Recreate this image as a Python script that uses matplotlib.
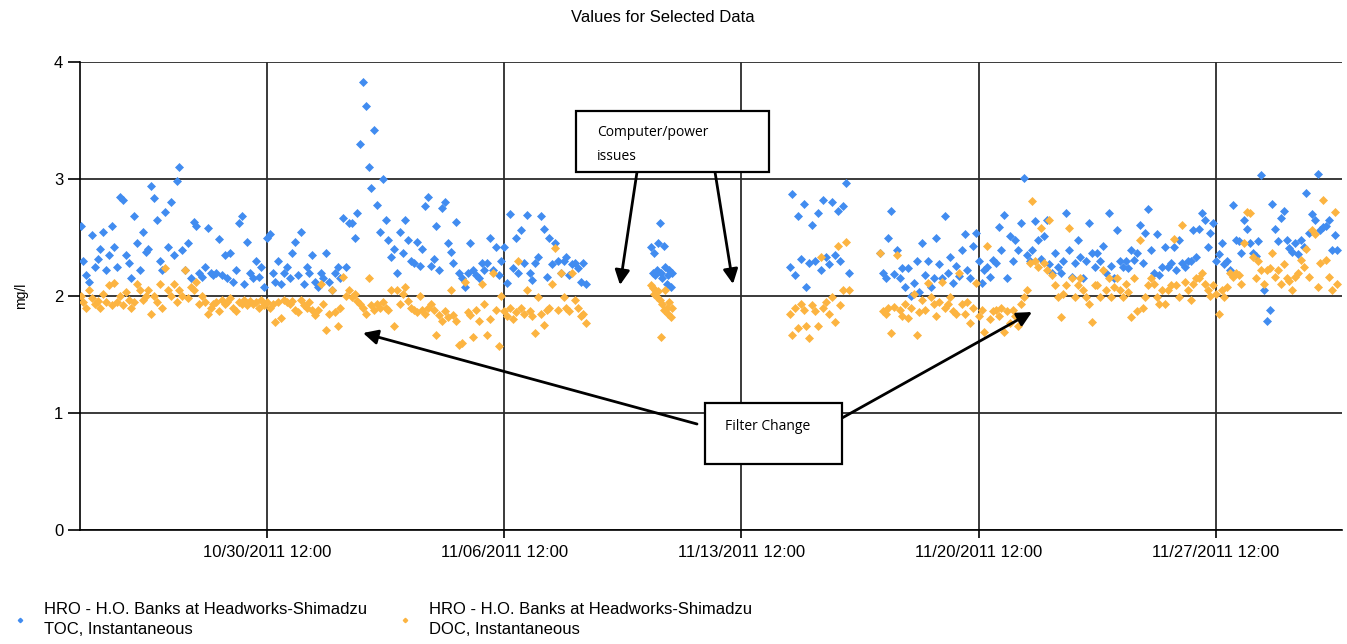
import matplotlib
matplotlib.use("Agg")
import matplotlib.pyplot as plt
import matplotlib.dates as mdates
from matplotlib.patches import Rectangle, FancyArrowPatch
from matplotlib.lines import Line2D
import pandas as pd
from datetime import datetime

plt.rcParams['font.family'] = ['Liberation Sans', 'DejaVu Sans']

TOC_COLOR = '#418CF0'
DOC_COLOR = '#FCB441'

# segment start times (2 hourly readings, hourly for the short one)
seg_starts = [datetime(2011, 10, 25, 0), datetime(2011, 11, 10, 20),
              datetime(2011, 11, 14, 22), datetime(2011, 11, 17, 14)]
seg_freq = ['2h', '1h', '2h', '2h']

# TOC, mg/l
toc_seg1 = [
    2.60, 2.30, 2.18, 2.12, 2.52, 2.25, 2.32, 2.40, 2.55, 2.22, 2.35, 2.60,  # 10/25
    2.42, 2.25, 2.85, 2.82, 2.35, 2.28, 2.15, 2.68, 2.45, 2.22, 2.55, 2.38,  # 10/26
    2.40, 2.94, 2.84, 2.65, 2.30, 2.22, 2.72, 2.42, 2.80, 2.35, 2.98, 3.10,  # 10/27
    2.39, 2.22, 2.45, 2.15, 2.63, 2.60, 2.20, 2.16, 2.25, 2.58, 2.20, 2.18,  # 10/28
    2.20, 2.49, 2.18, 2.35, 2.15, 2.37, 2.12, 2.22, 2.62, 2.68, 2.10, 2.46,  # 10/29
    2.20, 2.15, 2.30, 2.16, 2.25, 2.08, 2.50, 2.53, 2.20, 2.12, 2.30, 2.10,  # 10/30
    2.20, 2.25, 2.15, 2.37, 2.46, 2.18, 2.55, 2.10, 2.25, 2.20, 2.35, 2.12,  # 10/31
    2.08, 2.20, 2.15, 2.37, 2.12, 2.05, 2.20, 2.25, 2.15, 2.67, 2.25, 2.62,  # 11/01
    2.62, 2.50, 2.71, 3.30, 3.83, 3.62, 3.10, 2.92, 3.42, 2.78, 2.55, 3.00,  # 11/02
    2.65, 2.48, 2.33, 2.40, 2.20, 2.55, 2.37, 2.65, 2.48, 2.30, 2.28, 2.46,  # 11/03
    2.26, 2.40, 2.77, 2.85, 2.26, 2.32, 2.60, 2.22, 2.75, 2.80, 2.45, 2.38,  # 11/04
    2.28, 2.63, 2.20, 2.15, 2.08, 2.20, 2.45, 2.22, 2.18, 2.15, 2.28, 2.22,  # 11/05
    2.28, 2.50, 2.22, 2.42, 2.18, 2.30, 2.42, 2.11, 2.70, 2.24, 2.50, 2.20,  # 11/06
    2.56, 2.28, 2.69, 2.20, 2.14, 2.28, 2.33, 2.68, 2.57, 2.16, 2.50, 2.27,  # 11/07
    2.45, 2.30, 2.20, 2.30, 2.33, 2.18, 2.27, 2.28, 2.24, 2.12, 2.28, 2.10,  # 11/08
]
toc_seg2 = [2.42, 2.20, 2.37, 2.18, 2.22, 2.45, 2.62, 2.20,
            2.15, 2.43, 2.25, 2.10, 2.18, 2.22, 2.08, 2.20]
toc_seg3 = [2.25, 2.87, 2.18, 2.68, 2.32, 2.79, 2.08, 2.28, 2.61, 2.30, 2.71,
            2.22, 2.82, 2.33, 2.27, 2.80, 2.35, 2.73, 2.30, 2.77, 2.97, 2.20]
toc_seg4 = [
    2.37, 2.20, 2.15, 2.50, 2.73,                                            # 11/17
    2.19, 2.39, 2.15, 2.24, 2.08, 2.24, 2.00, 2.11, 2.30, 2.03, 2.45, 2.18,  # 11/18
    2.30, 2.08, 2.15, 2.50, 2.27, 2.15, 2.68, 2.20, 2.33, 2.11, 2.26, 2.17,  # 11/19
    2.39, 2.53, 2.22, 2.15, 2.43, 2.54, 2.30, 2.11, 2.22, 2.25, 2.16, 2.31,  # 11/20
    2.28, 2.59, 2.39, 2.69, 2.15, 2.51, 2.30, 2.48, 2.39, 2.62, 3.01, 2.35,  # 11/21
    2.30, 2.39, 2.64, 2.48, 2.32, 2.51, 2.65, 2.27, 2.20, 2.37, 2.25, 2.20,  # 11/22
    2.30, 2.71, 2.39, 2.16, 2.28, 2.48, 2.33, 2.15, 2.30, 2.62, 2.37, 2.25,  # 11/23
    2.37, 2.30, 2.43, 2.20, 2.71, 2.26, 2.15, 2.56, 2.30, 2.25, 2.30, 2.24,  # 11/24
    2.39, 2.31, 2.37, 2.61, 2.28, 2.54, 2.74, 2.39, 2.20, 2.53, 2.18, 2.25,  # 11/25
    2.42, 2.25, 2.28, 2.42, 2.22, 2.48, 2.28, 2.25, 2.30, 2.30, 2.56, 2.33,  # 11/26
    2.57, 2.71, 2.65, 2.42, 2.54, 2.62, 2.30, 2.36, 2.45, 2.27, 2.30, 2.22,  # 11/27
    2.78, 2.48, 2.47, 2.37, 2.65, 2.57, 2.45, 2.37, 2.34, 2.47, 3.03, 2.05,  # 11/28
    1.79, 1.88, 2.79, 2.57, 2.47, 2.67, 2.73, 2.48, 2.41, 2.38, 2.45, 2.36,  # 11/29
    2.48, 2.42, 2.88, 2.54, 2.70, 2.65, 3.04, 2.56, 2.59, 2.60, 2.65, 2.39,  # 11/30
    2.52, 2.39,                                                              # 12/01
]

# DOC, mg/l
doc_seg1 = [
    2.00, 1.95, 1.90, 2.05, 1.98, 1.93, 1.96, 1.90, 2.02, 1.95, 2.09, 1.92,  # 10/25
    2.11, 1.95, 2.00, 1.92, 2.03, 1.97, 1.90, 1.95, 2.10, 2.05, 1.97, 2.00,  # 10/26
    2.05, 1.85, 2.00, 1.95, 2.10, 1.90, 2.24, 2.05, 2.00, 2.10, 1.95, 2.05,  # 10/27
    2.00, 2.22, 1.98, 2.08, 2.05, 2.12, 1.93, 2.00, 1.95, 1.85, 1.90, 1.93,  # 10/28
    1.95, 1.87, 1.97, 1.93, 1.95, 1.98, 1.90, 1.87, 1.95, 1.93, 1.97, 1.92,  # 10/29
    1.96, 1.93, 1.95, 1.90, 1.97, 1.92, 1.95, 1.90, 1.93, 1.78, 1.95, 1.81,  # 10/30
    1.97, 1.95, 1.93, 1.96, 1.88, 1.86, 1.97, 1.92, 1.90, 1.95, 1.88, 1.84,  # 10/31
    1.88, 2.10, 1.93, 1.71, 1.85, 2.05, 1.86, 1.74, 1.90, 2.16, 2.00, 2.05,  # 11/01
    1.99, 2.02, 1.96, 1.93, 1.90, 1.85, 2.15, 1.92, 1.88, 1.93, 1.90, 1.95,  # 11/02
    1.90, 1.88, 2.05, 1.74, 2.05, 1.93, 2.02, 2.08, 1.96, 1.90, 1.88, 1.86,  # 11/03
    2.00, 1.88, 1.85, 1.90, 1.93, 1.88, 1.67, 1.84, 1.79, 1.87, 1.82, 2.05,  # 11/04
    1.84, 1.79, 1.58, 1.60, 2.12, 1.86, 1.84, 1.65, 1.88, 1.79, 2.10, 1.93,  # 11/05
    1.67, 1.80, 2.20, 1.88, 1.57, 2.00, 1.87, 1.83, 1.90, 1.80, 1.86, 2.30,  # 11/06
    1.90, 1.85, 2.05, 1.87, 1.83, 1.68, 1.99, 1.85, 1.75, 1.88, 1.90, 2.10,  # 11/07
    2.41, 1.88, 2.20, 1.99, 1.90, 1.87, 2.20, 1.97, 1.90, 1.83, 1.85, 1.77,  # 11/08
]
doc_seg2 = [2.09, 2.07, 2.02, 2.05, 1.99, 2.04, 1.97, 1.65,
            1.93, 1.88, 2.05, 1.90, 1.85, 1.95, 1.82, 1.90]
doc_seg3 = [1.85, 1.67, 1.90, 1.73, 1.93, 1.88, 1.74, 1.64, 1.92, 1.87, 1.74,
            2.33, 1.90, 1.95, 1.85, 1.99, 1.78, 2.43, 1.92, 2.05, 2.46, 2.05]
doc_seg4 = [
    2.37, 1.87, 1.85, 1.90, 1.68,                                            # 11/17
    1.91, 2.35, 1.88, 1.83, 1.93, 1.81, 1.90, 2.02, 1.67, 1.86, 1.97, 1.88,  # 11/18
    2.11, 1.99, 1.93, 1.83, 1.95, 2.12, 1.90, 1.93, 1.99, 1.87, 1.85, 2.20,  # 11/19
    1.93, 1.85, 1.95, 1.77, 1.90, 2.11, 1.83, 1.88, 1.69, 2.43, 1.80, 1.87,  # 11/20
    1.88, 1.83, 1.90, 1.69, 1.87, 1.77, 1.88, 1.83, 1.74, 1.93, 1.99, 2.05,  # 11/21
    2.28, 2.81, 2.30, 2.25, 2.58, 2.28, 2.22, 2.65, 2.18, 2.09, 1.99, 1.82,  # 11/22
    2.02, 2.09, 2.58, 2.15, 1.99, 2.09, 2.15, 2.05, 1.99, 1.93, 1.78, 2.09,  # 11/23
    2.09, 1.99, 2.22, 2.05, 2.15, 1.99, 2.08, 2.15, 2.05, 1.99, 2.10, 2.03,  # 11/24
    1.82, 2.15, 1.87, 2.48, 1.90, 1.99, 2.09, 2.15, 2.10, 1.99, 1.93, 2.05,  # 11/25
    1.93, 2.05, 2.09, 2.49, 2.09, 1.99, 2.61, 2.12, 2.05, 1.97, 2.10, 2.15,  # 11/26
    2.15, 2.20, 2.10, 2.05, 2.00, 2.09, 2.02, 1.85, 2.05, 1.99, 2.08, 2.20,  # 11/27
    2.16, 2.20, 2.18, 2.10, 2.45, 2.72, 2.71, 2.33, 2.15, 2.30, 2.22, 2.10,  # 11/28
    2.22, 2.24, 2.37, 2.16, 2.22, 2.10, 2.27, 2.15, 2.13, 2.05, 2.16, 2.20,  # 11/29
    2.31, 2.25, 2.40, 2.16, 2.56, 2.53, 2.08, 2.28, 2.82, 2.31, 2.16, 2.05,  # 11/30
    2.72, 2.10,                                                              # 12/01
]

toc_segs = [toc_seg1, toc_seg2, toc_seg3, toc_seg4]
doc_segs = [doc_seg1, doc_seg2, doc_seg3, doc_seg4]

tick_dates = [datetime(2011, 10, 30, 12), datetime(2011, 11, 6, 12), datetime(2011, 11, 13, 12),
              datetime(2011, 11, 20, 12), datetime(2011, 11, 27, 12)]

W, H = 1347, 644


def fpx(x, y):
    # pixel position -> figure fraction
    return (x / W, 1 - y / H)


fig = plt.figure(figsize=(W / 100, H / 100), dpi=100)
ax = fig.add_axes([80 / W, 1 - 530 / H, (1342 - 80) / W, (530 - 62) / H])

for start, freq, toc, doc in zip(seg_starts, seg_freq, toc_segs, doc_segs):
    t_toc = pd.date_range(start, periods=len(toc), freq=freq)
    t_doc = pd.date_range(start, periods=len(doc), freq=freq)
    ax.plot(t_toc, toc, ls='none', marker='D', ms=3.7, mew=0.5, color=TOC_COLOR, zorder=3)
    ax.plot(t_doc, doc, ls='none', marker='D', ms=3.7, mew=0.5, color=DOC_COLOR, zorder=3)

ax.set_xlim(datetime(2011, 10, 24, 23, 35), datetime(2011, 12, 1, 5, 14))
ax.set_ylim(0, 4)
ax.set_xticks(tick_dates)
ax.xaxis.set_major_formatter(mdates.DateFormatter('%m/%d/%Y %H:%M'))
ax.set_yticks([0, 1, 2, 3, 4])
ax.grid(True, color='#2b2b2b', lw=1.3, zorder=1)
ax.set_axisbelow(True)
for s in ['top', 'right']:
    ax.spines[s].set_visible(False)
ax.spines['left'].set_linewidth(1.2)
ax.spines['bottom'].set_linewidth(1.2)
ax.tick_params(axis='x', length=6, width=1.2, labelsize=12, pad=5)
ax.tick_params(axis='y', length=9, width=1.2, labelsize=12, pad=3)
ax.set_ylabel('mg/l', fontsize=10, labelpad=19)

fig.text(663 / W, 1 - 17 / H, 'Values for Selected Data', ha='center', va='center', fontsize=12)

# annotation boxes
note_font = ['Open Sans', 'DejaVu Sans']
for (x0, y0, x1, y1) in [(576, 111, 769, 172), (705, 403, 842, 464)]:
    fig.patches.append(Rectangle(fpx(x0, y1), (x1 - x0) / W, (y1 - y0) / H, transform=fig.transFigure,
                                 facecolor='white', edgecolor='black', lw=1.6, zorder=5))
fig.text(*fpx(597, 132), 'Computer/power', fontsize=10, family=note_font, va='center', zorder=6)
fig.text(*fpx(597, 156), 'issues', fontsize=10, family=note_font, va='center', zorder=6)
fig.text(*fpx(725, 426), 'Filter Change', fontsize=10, family=note_font, va='center', zorder=6)

arrows = [((637, 172), (620, 285)), ((715, 172), (733, 284)),
          ((697, 424), (363, 333)), ((842, 418), (1032, 312))]
for (sx, sy), (ex, ey) in arrows:
    fig.add_artist(FancyArrowPatch(
        fpx(sx, sy), fpx(ex, ey), transform=fig.transFigure, arrowstyle='-|>',
        mutation_scale=22, lw=2, color='black', shrinkA=0, shrinkB=0, zorder=5))

# legend
legend_items = [(20, TOC_COLOR, 'HRO - H.O. Banks at Headworks-Shimadzu', 'TOC, Instantaneous'),
                (405, DOC_COLOR, 'HRO - H.O. Banks at Headworks-Shimadzu', 'DOC, Instantaneous')]
for mx, col, line1, line2 in legend_items:
    fig.add_artist(Line2D([mx / W], [1 - 620 / H], transform=fig.transFigure, ls='none',
                          marker='D', ms=2.2, color=col))
    fig.text(*fpx(mx + 24, 610), line1, fontsize=12, va='center')
    fig.text(*fpx(mx + 24, 630), line2, fontsize=12, va='center')

fig.savefig('out.png', dpi=100)
